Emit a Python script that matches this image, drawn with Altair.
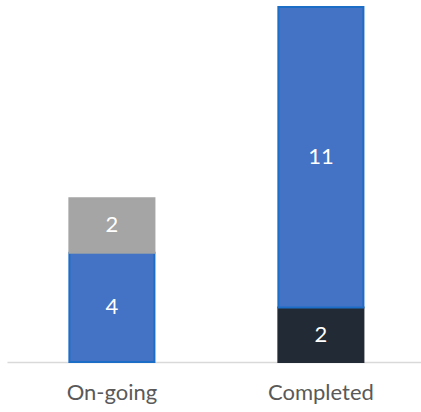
import altair as alt
import pandas as pd

status = ["On-going", "On-going", "Completed", "Completed"]
segment = ["Blue", "Grey", "Dark", "Blue"]
values = [4, 2, 2, 11]
stack_order = [1, 2, 0, 1]

categories = ["On-going", "Completed"]
seg_domain = ["Dark", "Blue", "Grey"]
seg_fill = ["#222A35", "#4472C4", "#A5A5A5"]
seg_stroke = ["#222A35", "#1C6DC6", "#A5A5A5"]

df = pd.DataFrame({"status": status, "segment": segment, "value": values, "ord": stack_order})

FONT = "Lato"

base = alt.Chart(df).transform_window(
    cum="sum(value)", groupby=["status"], sort=[alt.SortField("ord")], frame=[None, 0]
).transform_calculate(
    start="datum.cum - datum.value", mid="datum.cum - datum.value / 2"
)

xenc = alt.X("status:N", sort=categories, title=None,
             scale=alt.Scale(domain=categories, paddingInner=0.593, paddingOuter=0.287, align=0.52),
             axis=alt.Axis(labelAngle=0, labelFontSize=22, labelColor="#595959", labelFont=FONT,
                           ticks=False, domainColor="#D9D9D9", domainWidth=1.5, labelPadding=20))

bars = base.mark_bar(strokeWidth=2).encode(
    x=xenc,
    y=alt.Y("start:Q", scale=alt.Scale(domain=[0, 13], nice=False, zero=True), axis=None),
    y2="cum:Q",
    color=alt.Color("segment:N", scale=alt.Scale(domain=seg_domain, range=seg_fill), legend=None),
    stroke=alt.Stroke("segment:N", scale=alt.Scale(domain=seg_domain, range=seg_stroke), legend=None),
)

labels = base.mark_text(color="white", fontSize=22, font=FONT, baseline="middle").encode(
    x=alt.X("status:N", sort=categories),
    y=alt.Y("mid:Q"),
    text="value:Q",
)

chart = alt.layer(bars, labels).properties(
    width=414, height=355,
    autosize=alt.AutoSizeParams(type="none"),
    padding={"left": 7, "top": 7, "right": 0, "bottom": 50},
).configure(background="white", view=alt.ViewConfig(stroke=None))

chart.save("out.html", embed_options={"renderer": "svg", "actions": False})
